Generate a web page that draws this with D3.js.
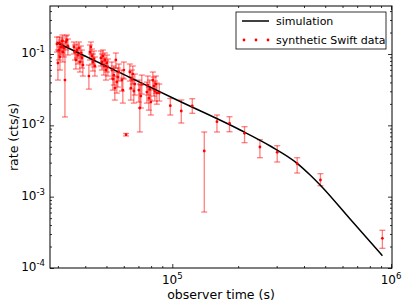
<!DOCTYPE html>
<html lang="en">
<head>
  <meta charset="UTF-8">
  <title>Synthetic Swift light curve</title>
  <script src="https://d3js.org/d3.v7.min.js"></script>
  <style>
    body {
      margin: 0;
      padding: 0;
      background: white;
      font-family: "DejaVu Sans", sans-serif;
    }
    svg text {
      fill: #000;
    }
  </style>
</head>
<body>
  <div id="chart"></div>

  <script>
    // simulated light curve (observer time in s, rate in cts/s)
    const simTime = [29760, 57880, 105070, 204400, 280300, 372200, 426700, 474000, 649800, 912700];
    const simRate = [0.144, 0.0545, 0.02265, 0.0086, 0.00513, 0.002935, 0.002012, 0.001457, 0.000486, 0.0001487];

    // synthetic Swift data points, with lower / upper ends of the error bars
    const obsTime = [
      29690, 30000, 30320, 30640, 30970, 31290, 31620, 31960, 32300, 32640, 32980, 33330, 30480, 31460,
      35500, 35880, 36250, 36640, 37030, 37420, 37810, 38210, 38620, 39020,
      41560, 42000, 42440, 42890, 43350, 43800, 44270,
      47150, 47650, 48150, 48660, 49180, 49700, 50220, 50750,
      52920, 53480, 54040, 54610, 55190, 55770, 56360, 56960,
      58790, 59410, 60040, 61450,
      63950, 64620, 65310, 66000, 66690, 67400,
      70310, 71050, 71800, 72560,
      76490, 77300, 78110, 78940, 79770,
      81470, 82330, 83200, 84080, 84970, 87220,
      97920, 109900, 123400, 140000, 160000, 182600, 213900, 251500, 301700, 372200, 475500, 912700
    ];
    const obsRate = [
      0.1381, 0.0748, 0.1138, 0.0908, 0.1254, 0.1337, 0.1067, 0.1214, 0.0431, 0.1473, 0.1571, 0.1295, 0.1426, 0.1522,
      0.1254, 0.1067, 0.0824, 0.1138, 0.0968, 0.1214, 0.0772, 0.1033, 0.0879, 0.0701,
      0.0491, 0.1067, 0.1254, 0.0937, 0.0772, 0.0851, 0.0679,
      0.0879, 0.0772, 0.0937, 0.0679, 0.0824, 0.0596, 0.0748, 0.0657,
      0.0596, 0.0446, 0.0507, 0.0333, 0.0824, 0.0404, 0.0475, 0.0559,
      0.0431, 0.0312, 0.0596, 0.00739,
      0.0559, 0.0333, 0.0446, 0.0524, 0.0302, 0.0379,
      0.0312, 0.0175, 0.0257, 0.0379,
      0.0293, 0.0367, 0.0241, 0.0322, 0.0212,
      0.0431, 0.0355, 0.0302, 0.0379, 0.0283, 0.0283,
      0.01884, 0.01588, 0.01866, 0.004366, 0.01124, 0.01068, 0.00773, 0.00497, 0.004187, 0.002898, 0.001713, 0.0002607
    ];
    const obsHigh = [
      0.1731, 0.1138, 0.1473, 0.1254, 0.1571, 0.1676, 0.1381, 0.1522, 0.1254, 0.1788, 0.1847, 0.1623, 0.1731, 0.1847,
      0.1473, 0.1337, 0.1067, 0.1381, 0.1214, 0.1473, 0.1033, 0.1295, 0.1138, 0.0937,
      0.0701, 0.1337, 0.1473, 0.1175, 0.1000, 0.1102, 0.0908,
      0.1102, 0.1000, 0.1138, 0.0879, 0.1033, 0.0798, 0.0968, 0.0851,
      0.0772, 0.0636, 0.0679, 0.0491, 0.1033, 0.0559, 0.0636, 0.0724,
      0.0596, 0.0460, 0.0772, 0.0077,
      0.0724, 0.0475, 0.0596, 0.0679, 0.0431, 0.0524,
      0.0431, 0.0379, 0.0367, 0.0507,
      0.0404, 0.0491, 0.0344, 0.0431, 0.0312,
      0.0559, 0.0475, 0.0418, 0.0491, 0.0391, 0.0379,
      0.02377, 0.02265, 0.02361, 0.008065, 0.01395, 0.01321, 0.00957, 0.00629, 0.00518, 0.003516, 0.0021, 0.0003376
    ];
    const obsLow = [
      0.1067, 0.0431, 0.0824, 0.0596, 0.0968, 0.1033, 0.0772, 0.0908, 0.0131, 0.1138, 0.1254, 0.0968, 0.1102, 0.1214,
      0.1000, 0.0824, 0.0616, 0.0879, 0.0724, 0.0937, 0.0559, 0.0772, 0.0636, 0.0491,
      0.0322, 0.0824, 0.1000, 0.0724, 0.0577, 0.0657, 0.0491,
      0.0679, 0.0596, 0.0724, 0.0507, 0.0636, 0.0431, 0.0559, 0.0491,
      0.0446, 0.0312, 0.0367, 0.0226, 0.0636, 0.0283, 0.0344, 0.0418,
      0.0302, 0.0205, 0.0446, 0.0071,
      0.0418, 0.0226, 0.0322, 0.0379, 0.0205, 0.0266,
      0.0212, 0.00807, 0.0175, 0.0274,
      0.0205, 0.0266, 0.01634, 0.0226, 0.01395,
      0.0322, 0.0257, 0.0219, 0.0283, 0.0198, 0.0219,
      0.01395, 0.01078, 0.01475, 0.000609, 0.008065, 0.00814, 0.00571, 0.003516, 0.003061, 0.002146, 0.001425, 0.0001888
    ];

    const xMajor = [1e5, 1e6];
    const yMajor = [1e-4, 1e-3, 1e-2, 1e-1];
    const xLabels = [["10", "5"], ["10", "6"]];
    const yLabels = [["10", "-4"], ["10", "-3"], ["10", "-2"], ["10", "-1"]];
    const seriesNames = ["simulation", "synthetic Swift data"];

    const W = 407, H = 307;
    const margin = { top: 6, right: 15, bottom: 39, left: 50 };
    const width = W - margin.left - margin.right;
    const height = H - margin.top - margin.bottom;

    const svg = d3.select("#chart").append("svg")
      .attr("width", W)
      .attr("height", H)
      .style("display", "block");

    const g = svg.append("g")
      .attr("transform", `translate(${margin.left},${margin.top})`);

    const x = d3.scaleLog().domain([27600, 1.01e6]).range([0, width]);
    const y = d3.scaleLog().domain([1e-4, 0.471]).range([height, 0]);

    // minor tick values between decades
    function minorTicks(scale) {
      const [a, b] = scale.domain();
      const out = [];
      for (let e = Math.floor(Math.log10(a)); e <= Math.ceil(Math.log10(b)); e++) {
        for (let m = 2; m <= 9; m++) {
          const v = m * Math.pow(10, e);
          if (v >= a && v <= b) out.push(v);
        }
      }
      return out;
    }

    g.append("clipPath").attr("id", "plotclip")
      .append("rect").attr("width", width).attr("height", height);

    const plot = g.append("g").attr("clip-path", "url(#plotclip)");

    // error bars
    const pts = obsTime.map((t, i) => ({ t: t, r: obsRate[i], lo: obsLow[i], hi: obsHigh[i] }));
    const eb = plot.append("g")
      .attr("stroke", "#ff0000")
      .attr("stroke-opacity", 0.5)
      .attr("stroke-width", 1.3);

    eb.selectAll(".bar").data(pts).enter().append("line")
      .attr("x1", d => x(d.t)).attr("x2", d => x(d.t))
      .attr("y1", d => y(d.hi)).attr("y2", d => y(d.lo));
    eb.selectAll(".capHi").data(pts).enter().append("line")
      .attr("x1", d => x(d.t) - 3).attr("x2", d => x(d.t) + 3)
      .attr("y1", d => y(d.hi)).attr("y2", d => y(d.hi));
    eb.selectAll(".capLo").data(pts).enter().append("line")
      .attr("x1", d => x(d.t) - 3).attr("x2", d => x(d.t) + 3)
      .attr("y1", d => y(d.lo)).attr("y2", d => y(d.lo));

    // simulation line
    const line = d3.line()
      .x((d, i) => x(simTime[i]))
      .y((d, i) => y(simRate[i]))
      .curve(d3.curveMonotoneX);

    plot.append("path")
      .datum(simTime)
      .attr("d", line)
      .attr("fill", "none")
      .attr("stroke", "#000")
      .attr("stroke-width", 1.5);

    // data markers
    plot.selectAll(".pt").data(pts).enter().append("circle")
      .attr("cx", d => x(d.t))
      .attr("cy", d => y(d.r))
      .attr("r", 1.4)
      .attr("fill", "#ff0000");

    // axes: ticks pointing inwards on all four sides
    function styleAxis(sel) {
      sel.select(".domain").remove();
      sel.selectAll("line").attr("stroke", "#000").attr("stroke-width", 0.8);
      sel.selectAll("text").remove();
    }

    const xMinor = minorTicks(x);
    const yMinor = minorTicks(y);

    g.append("g").attr("transform", `translate(0,${height})`)
      .call(d3.axisBottom(x).tickValues(xMajor).tickSize(-4)).call(styleAxis);
    g.append("g").attr("transform", `translate(0,${height})`)
      .call(d3.axisBottom(x).tickValues(xMinor).tickSize(-2)).call(styleAxis);
    g.append("g")
      .call(d3.axisTop(x).tickValues(xMajor).tickSize(-4)).call(styleAxis);
    g.append("g")
      .call(d3.axisTop(x).tickValues(xMinor).tickSize(-2)).call(styleAxis);

    g.append("g")
      .call(d3.axisLeft(y).tickValues(yMajor).tickSize(-4)).call(styleAxis);
    g.append("g")
      .call(d3.axisLeft(y).tickValues(yMinor).tickSize(-2)).call(styleAxis);
    g.append("g").attr("transform", `translate(${width},0)`)
      .call(d3.axisRight(y).tickValues(yMajor).tickSize(-4)).call(styleAxis);
    g.append("g").attr("transform", `translate(${width},0)`)
      .call(d3.axisRight(y).tickValues(yMinor).tickSize(-2)).call(styleAxis);

    // frame
    g.append("rect")
      .attr("width", width).attr("height", height)
      .attr("fill", "none").attr("stroke", "#000").attr("stroke-width", 1);

    // tick labels with superscript exponents
    xMajor.forEach((v, i) => {
      const t = g.append("text")
        .attr("x", x(v))
        .attr("y", height + 16)
        .attr("text-anchor", "middle")
        .style("font-size", "12px");
      t.append("tspan").text(xLabels[i][0]);
      t.append("tspan").attr("dy", -5).style("font-size", "8.5px").text(xLabels[i][1]);
    });

    yMajor.forEach((v, i) => {
      const t = g.append("text")
        .attr("x", -5)
        .attr("y", y(v) + 3)
        .attr("text-anchor", "end")
        .style("font-size", "12px");
      t.append("tspan").text(yLabels[i][0]);
      t.append("tspan").attr("dy", -5).style("font-size", "8.5px").text(yLabels[i][1]);
    });

    // axis titles
    svg.append("text")
      .attr("x", margin.left + width / 2)
      .attr("y", 299)
      .attr("text-anchor", "middle")
      .style("font-size", "12.5px")
      .text("observer time (s)");

    svg.append("text")
      .attr("transform", `translate(18,${margin.top + height / 2}) rotate(-90)`)
      .attr("text-anchor", "middle")
      .style("font-size", "12.5px")
      .text("rate (cts/s)");

    // legend
    const leg = svg.append("g").attr("transform", "translate(236,12)");
    leg.append("rect")
      .attr("width", 150).attr("height", 37)
      .attr("fill", "#fff").attr("stroke", "#000").attr("stroke-width", 0.8);

    leg.append("line")
      .attr("x1", 6).attr("x2", 33).attr("y1", 9).attr("y2", 9)
      .attr("stroke", "#000").attr("stroke-width", 1.5);
    leg.append("text").attr("x", 40).attr("y", 13)
      .style("font-size", "11px").text(seriesNames[0]);

    leg.selectAll(".ldot").data([8, 20, 32]).enter().append("circle")
      .attr("cx", d => d).attr("cy", 28).attr("r", 1.4).attr("fill", "#ff0000");
    leg.append("text").attr("x", 40).attr("y", 32)
      .style("font-size", "11px").text(seriesNames[1]);
  </script>
</body>
</html>
